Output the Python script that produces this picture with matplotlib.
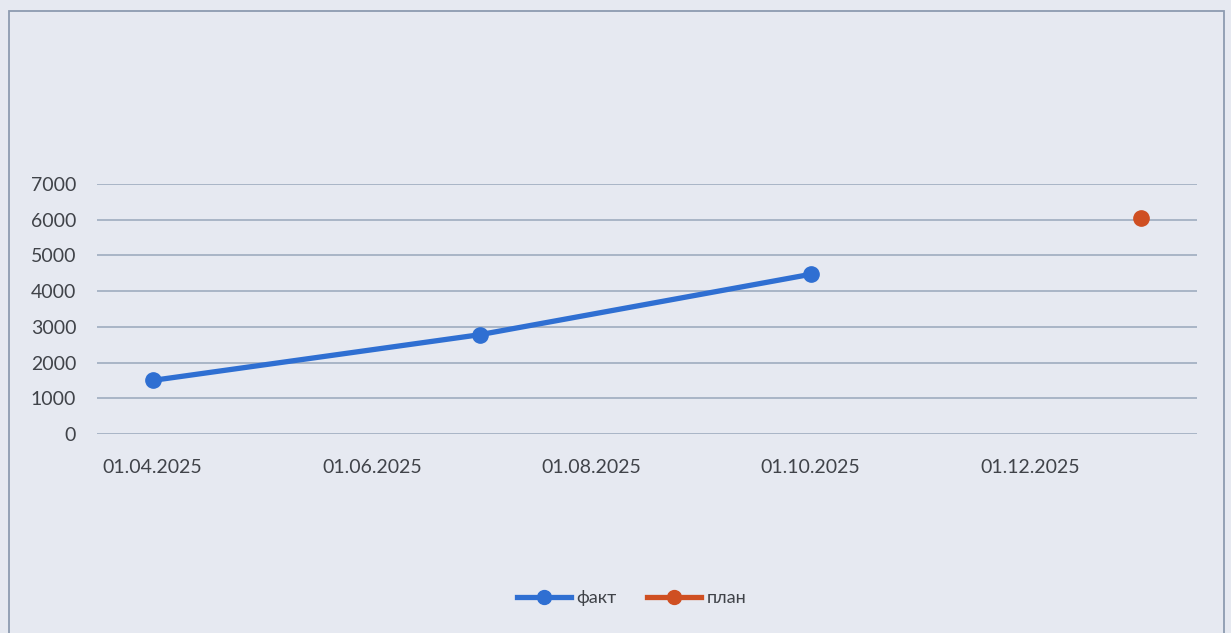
import datetime as dt
import matplotlib
matplotlib.use("Agg")
import matplotlib.pyplot as plt
import matplotlib.dates as mdates
from matplotlib.patches import Rectangle

# data
fact_dates = [dt.date(2025, 4, 1), dt.date(2025, 7, 1), dt.date(2025, 10, 1)]
fact_vals = [1500, 2780, 4470]
plan_dates = [dt.date(2026, 1, 1)]
plan_vals = [6050]
y_ticks = [0, 1000, 2000, 3000, 4000, 5000, 6000, 7000]
x_ticks = [dt.date(2025, 4, 1), dt.date(2025, 6, 1), dt.date(2025, 8, 1),
           dt.date(2025, 10, 1), dt.date(2025, 12, 1)]

BG = "#e6e9f1"
GRID = "#a9b5c6"
TXT = "#404349"
BLUE = "#2f6fd2"
ORANGE = "#cf4f22"

plt.rcParams['font.family'] = ['Lato', 'DejaVu Sans']

fig = plt.figure(figsize=(12.31, 6.33), dpi=100, facecolor=BG)
ax = fig.add_axes([0.0788, 0.3144, 0.8936, 0.3950])
ax.set_facecolor(BG)

# chart frame
fig.patches.append(Rectangle((9 / 1231, -0.01), 1215 / 1231, 1 - 11 / 633 + 0.01,
                             transform=fig.transFigure, fill=False,
                             edgecolor="#8d9bb0", linewidth=1.3))

ax.plot(fact_dates, fact_vals, color=BLUE, lw=3.8, marker="o", ms=11,
        solid_capstyle="round", label="факт", zorder=3)
ax.plot(plan_dates, plan_vals, color=ORANGE, lw=3.8, marker="o", ms=11,
        linestyle="none", label="план", zorder=3)

ax.set_ylim(0, 7000)
ax.set_yticks(y_ticks)
ax.set_xlim(mdates.date2num(dt.date(2025, 3, 16)) + 0.5,
            mdates.date2num(dt.date(2026, 1, 16)) + 0.5)
ax.set_xticks(x_ticks)
ax.xaxis.set_major_formatter(mdates.DateFormatter("%d.%m.%Y"))

ax.grid(axis="y", color=GRID, lw=1.4)
ax.set_axisbelow(True)
for s in ax.spines.values():
    s.set_visible(False)
ax.tick_params(axis="both", length=0, labelsize=14, labelcolor=TXT)
ax.tick_params(axis="x", pad=18)
ax.tick_params(axis="y", pad=15)

# legend entries drawn as line + marker, like the Excel legend
h1, = ax.plot([], [], color=BLUE, lw=3.8, marker="o", ms=10)
h2, = ax.plot([], [], color=ORANGE, lw=3.8, marker="o", ms=10)
fig.legend([h1, h2], ["факт", "план"], loc="center", bbox_to_anchor=(0.513, 0.055),
           ncol=2, frameon=False, fontsize=13, labelcolor=TXT,
           handlelength=3.0, handletextpad=0.3, columnspacing=1.7)

fig.savefig("out.png", dpi=100, facecolor=BG)
